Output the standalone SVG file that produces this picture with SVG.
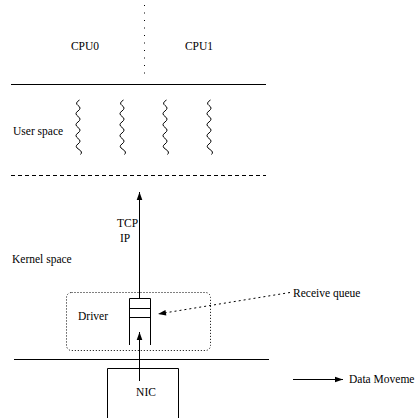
<svg xmlns="http://www.w3.org/2000/svg" width="418" height="418" viewBox="0 0 418 418" font-family="'Liberation Serif','Times New Roman',serif">
<defs>
<style>
text{font-family:"Liberation Serif","Times New Roman",serif;font-size:11.5px;fill:#000}
.ln{stroke:#000;stroke-width:1;fill:none}
.vdot{stroke:#000;stroke-width:1;fill:none;stroke-dasharray:1 6.5}
.rdot{stroke:#000;stroke-width:1;fill:none;stroke-dasharray:1 2}
.adot{stroke:#000;stroke-width:1;fill:none;stroke-dasharray:2 3}
.dash{stroke:#000;stroke-width:1;fill:none;stroke-dasharray:4 3}
.wave{stroke:#000;stroke-width:1;fill:none}
</style>
<marker id="ah" viewBox="0 0 10 10" refX="10" refY="5" markerWidth="10" markerHeight="8" markerUnits="userSpaceOnUse" orient="auto">
<path d="M0,1.5 L10,5 L0,8.5 z" fill="#000" stroke="none"/>
</marker>
<path id="w" d="M0,0 q-5,3 -1.5,5.5 q4,2.5 0,5.5 q-4,2.5 0,5.5 q4,2.5 0,5.5 q-4,2.5 0,5.5 q4,2.5 0,5.5 q-4,2.5 0,5.5 q4,2.5 0,5.5 q-4,2.5 1,5.5 q4,2.5 1.5,5"/>
</defs>
<rect width="418" height="418" fill="#fff"/>

<g id="cpu-area">
<line class="vdot" x1="144.5" y1="5" x2="144.5" y2="74"/>
<text x="85" y="50" text-anchor="middle">CPU0</text>
<text x="199" y="50" text-anchor="middle">CPU1</text>
<line class="ln" x1="11" y1="84.5" x2="266" y2="84.5"/>
</g>

<g id="user-space">
<text x="13" y="135">User space</text>
<use href="#w" x="79.5" y="100" class="wave"/>
<use href="#w" x="123.5" y="100" class="wave"/>
<use href="#w" x="166.5" y="100" class="wave"/>
<use href="#w" x="210.5" y="100" class="wave"/>
<line class="dash" x1="11" y1="175.5" x2="266" y2="175.5"/>
</g>

<g id="kernel-space">
<text x="12" y="263">Kernel space</text>
<text x="117" y="227">TCP</text>
<text x="120" y="242">IP</text>
</g>

<g id="driver">
<rect class="rdot" x="66.5" y="292.5" width="144" height="58" rx="5" ry="5"/>
<text x="78" y="320">Driver</text>
</g>

<g id="receive-queue">
<path class="ln" d="M129.5,345 V298.5 H150.5 V345"/>
<line class="ln" x1="129.5" y1="308.5" x2="150.5" y2="308.5"/>
<line class="ln" x1="129.5" y1="317.5" x2="150.5" y2="317.5"/>
<text x="293" y="297">Receive queue</text>
</g>

<g id="boundary">
<line class="ln" x1="14" y1="359.5" x2="269" y2="359.5"/>
</g>

<g id="nic">
<path class="ln" d="M107.5,418 V368.5 H178.5 V418"/>
<text x="146" y="396" text-anchor="middle">NIC</text>
</g>

<g id="legend">
<line class="ln" x1="293" y1="379.5" x2="343" y2="379.5" marker-end="url(#ah)"/>
<text x="349" y="383">Data Moveme</text>
</g>

<g id="connectors">
<line class="ln" x1="139.5" y1="298" x2="139.5" y2="192" marker-end="url(#ah)"/>
<line class="ln" x1="139.5" y1="381" x2="139.5" y2="332" marker-end="url(#ah)"/>
<line class="adot" x1="290" y1="292.5" x2="158" y2="314" marker-end="url(#ah)"/>
</g>
</svg>
